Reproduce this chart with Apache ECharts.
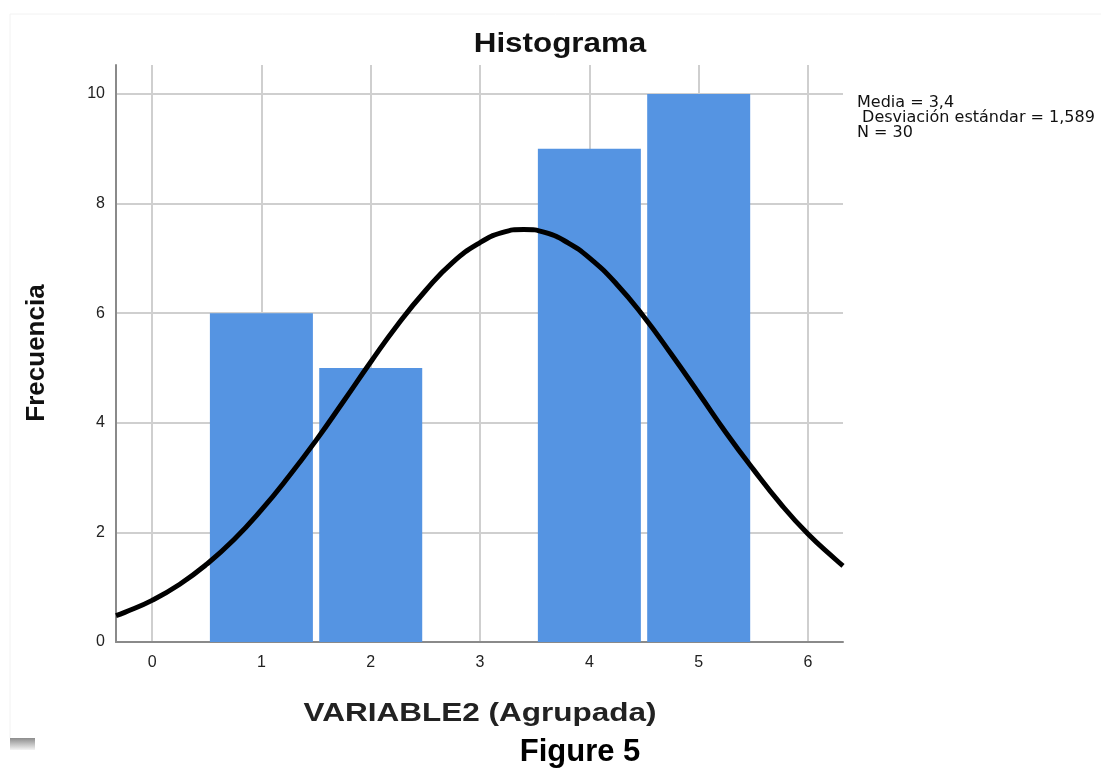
<!DOCTYPE html>
<html>
<head>
<meta charset="utf-8">
<script src="https://cdn.jsdelivr.net/npm/echarts@6/dist/echarts.min.js"></script>
<style>
  html, body { margin: 0; padding: 0; background: #fff; }
  #chart { width: 1101px; height: 769px; }
</style>
</head>
<body>
<div id="chart"></div>
<script>
// histogram bins (centre) and counts
const binCenters = [1, 2, 4, 5];
const counts = [6, 5, 9, 10];

// normal curve
const curveX = [-0.33, -0.25, 0, 0.25, 0.5, 0.75, 1, 1.25, 1.5, 1.75, 2, 2.25, 2.5, 2.75, 3,
  3.2, 3.4, 3.6, 3.8, 4, 4.25, 4.5, 4.75, 5, 5.25, 5.5, 5.75, 6, 6.25, 6.32];
const curveY = [0.48, 0.54, 0.76, 1.05, 1.42, 1.87, 2.41, 3.02, 3.68, 4.39, 5.11, 5.8, 6.41, 6.93, 7.29,
  7.47, 7.53, 7.47, 7.29, 7.01, 6.53, 5.93, 5.25, 4.54, 3.82, 3.15, 2.52, 1.97, 1.51, 1.39];

const xTicks = [0, 1, 2, 3, 4, 5, 6];
const yTicks = [0, 2, 4, 6, 8, 10];

const statsLines = ["Media = 3,4", " Desviación estándar = 1,589", "N = 30"];

const font = "Liberation Sans, Arial, Helvetica, sans-serif";
const gridColor = "#cfcfcf";
const axisColor = "#8a8a8a";

const chart = echarts.init(document.getElementById("chart"));

chart.setOption({
  animation: false,
  backgroundColor: "#fff",
  textStyle: { fontFamily: font },
  grid: { left: 116, top: 65, width: 727, height: 577 },
  xAxis: {
    type: "value",
    min: -0.33,
    max: 6.32,
    axisLine: { show: true, onZero: false, lineStyle: { color: axisColor, width: 2 } },
    axisTick: { show: false, customValues: xTicks },
    axisLabel: { customValues: xTicks, color: "#222", fontSize: 16, margin: 13, fontFamily: font },
    splitLine: { show: true, lineStyle: { color: gridColor, width: 2 } },
  },
  yAxis: {
    type: "value",
    min: 0,
    max: 10.53,
    axisLine: { show: true, onZero: false, lineStyle: { color: axisColor, width: 2 } },
    axisTick: { show: false, customValues: yTicks },
    axisLabel: { customValues: yTicks, color: "#222", fontSize: 16, margin: 11, fontFamily: font },
    splitLine: { show: true, lineStyle: { color: gridColor, width: 2 } },
  },
  series: [
    {
      name: "Frecuencia",
      type: "bar",
      barWidth: 103,
      z: 2,
      itemStyle: { color: "#5594e2" },
      data: binCenters.map((c, i) => [c, counts[i]]),
    },
    {
      name: "Normal",
      type: "line",
      smooth: 0.5,
      symbol: "none",
      z: 5,
      lineStyle: { color: "#000", width: 5 },
      data: curveX.map((x, i) => [x, curveY[i]]),
    },
  ],
  graphic: [
    // faint frame of the pasted image
    { type: "line", shape: { x1: 10, y1: 14, x2: 1101, y2: 14 }, style: { stroke: "#f2f2f2", lineWidth: 1 } },
    { type: "line", shape: { x1: 10, y1: 14, x2: 10, y2: 738 }, style: { stroke: "#f2f2f2", lineWidth: 1 } },
    {
      type: "rect",
      shape: { x: 10, y: 738, width: 25, height: 12 },
      style: {
        fill: new echarts.graphic.LinearGradient(0, 0, 0, 1, [
          { offset: 0, color: "#8c8c8c" },
          { offset: 1, color: "#f4f4f4" },
        ]),
      },
    },
    {
      type: "text",
      x: 560,
      y: 44,
      scaleX: 1.12,
      style: { text: "Histograma", font: "bold 28px " + font, fill: "#111", align: "center", verticalAlign: "middle" },
    },
    {
      type: "text",
      x: 857,
      y: 95,
      style: { text: statsLines.join("\n"), font: "16px DejaVu Sans, Verdana, sans-serif", lineHeight: 15, fill: "#111" },
    },
    {
      type: "text",
      x: 37,
      y: 353,
      rotation: Math.PI / 2,
      style: { text: "Frecuencia", font: "bold 26px " + font, fill: "#111", align: "center", verticalAlign: "middle" },
    },
    {
      type: "text",
      x: 480,
      y: 714,
      scaleX: 1.26,
      style: { text: "VARIABLE2 (Agrupada)", font: "bold 25px " + font, fill: "#222", align: "center", verticalAlign: "middle" },
    },
    {
      type: "text",
      x: 580,
      y: 752,
      style: { text: "Figure 5", font: "bold 31px " + font, fill: "#000", align: "center", verticalAlign: "middle" },
    },
  ],
});
</script>
</body>
</html>
